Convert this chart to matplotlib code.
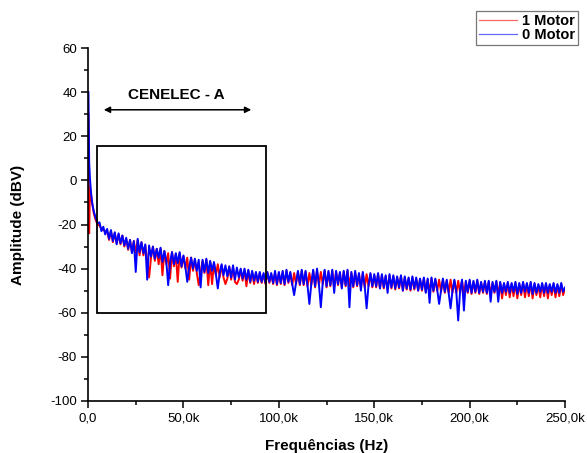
import numpy as np
import matplotlib
matplotlib.use("Agg")
import matplotlib.pyplot as plt
from matplotlib.patches import Rectangle
from matplotlib.ticker import MultipleLocator, FuncFormatter

plt.rcParams['font.family'] = ['Liberation Sans', 'DejaVu Sans']
plt.rcParams['axes.unicode_minus'] = False

# frequency grid (kHz): fine steps near 0, then 1 kHz steps
freq_head_khz = [0.2, 0.4, 0.6, 1, 1.5, 2, 2.5, 3, 4, 5, 6, 7, 8, 9]
freq_khz = np.concatenate([freq_head_khz, np.arange(10, 251)])

# 1 Motor (red) - amplitude in dBV
motor1_db = [
    30, -22, -24, -3, -6, -10, -12, -15, -18, -20, -20.5, -22, -22.5, -23,
    -23, -27, -23, -28, -24, -28.5, -24.5, -29, -25, -30,
    -26.5, -31.5, -27, -32.5, -27.5, -33, -27, -34, -28, -34,
    -29.5, -36, -44, -35, -30, -36.5, -31, -38, -31, -43,
    -32, -38, -33, -44.5, -32.5, -39, -33.5, -46, -33, -39.5,
    -34.5, -40, -35, -45, -35, -41, -36, -42, -47.5, -41.5,
    -36.5, -42, -36, -47.5, -37, -47, -37.5, -43, -38, -44,
    -38.5, -44, -47, -44.5, -39, -45, -39.5, -46, -47, -45,
    -40.5, -45.5, -40.5, -48, -41, -46.5, -41.5, -47, -42, -46.5,
    -42, -46.5, -42.5, -47, -42, -46.5, -42.5, -47, -42, -47.5,
    -42, -47, -41.5, -47.5, -41, -46.5, -42, -47.5, -42, -47,
    -41.5, -47.5, -41, -47.5, -41.5, -48, -42, -47.5, -41, -48.5,
    -41, -47.5, -41.5, -47, -41, -48.5, -41.5, -48, -41, -48,
    -41.5, -47.5, -42, -48.5, -41.5, -48, -41, -48, -42, -48.5,
    -42, -48, -42.5, -48.5, -42, -48.5, -42.5, -48, -42.5, -48.5,
    -43, -48.5, -42.5, -49, -43, -49, -43.5, -49.5, -43, -49,
    -43.5, -49.5, -44, -49, -43.5, -50, -44, -49.5, -44.5, -50,
    -44, -49.5, -44.5, -50, -45, -50, -44.5, -50.5, -45, -50.5,
    -44.5, -50.5, -45, -50, -45, -50.5, -45, -51, -45.5, -51,
    -45, -51, -45.5, -51, -45.5, -51, -45.5, -51.5, -46, -51,
    -45.5, -51.5, -46, -51, -45.5, -51.5, -46.5, -51, -46, -51.5,
    -46, -51.5, -46.5, -51, -46, -51.5, -46.5, -53.5, -47, -52,
    -46.5, -53, -47, -52.5, -46.5, -53.5, -47, -52, -46.5, -53,
    -47, -52.5, -46.5, -53.5, -47, -52, -47.5, -53, -47, -52.5,
    -47, -53.5, -47.5, -52, -47, -53, -47.5, -52.5, -47, -52,
    -49,
]

# 0 Motor (blue) - amplitude in dBV
motor0_db = [
    40, 22, 8, 1, -5, -9, -12, -14, -17, -19.5, -19, -23, -21, -24.5,
    -22, -26.5, -22.5, -27.5, -23.5, -29, -24, -28.5, -25, -29.5,
    -26, -31, -27, -33, -27.5, -41.5, -26.5, -32.5, -28, -33,
    -29, -45, -29.5, -34.5, -30, -35.5, -31, -35, -30.5, -37,
    -32, -36.5, -47.5, -37, -32.5, -38, -33, -37.5, -32.5, -39,
    -34, -39, -46, -39.5, -35, -40, -35.5, -41, -36, -48.5,
    -36, -41.5, -35.5, -42, -36.5, -41, -37, -42.5, -49, -42,
    -38, -43, -38.5, -43.5, -39, -44, -38.5, -45, -39.5, -44,
    -40, -44.5, -40, -45, -40.5, -46, -41, -45.5, -41.5, -46,
    -41.5, -46, -42, -46.5, -41.5, -46, -42, -46.5, -41, -47,
    -41.5, -46.5, -41, -47, -40.5, -46, -41.5, -47, -52, -46.5,
    -41, -47, -40.5, -47, -41, -47.5, -56, -47, -40.5, -48,
    -40, -47, -57.5, -46.5, -40.5, -48, -41, -47.5, -40.5, -51,
    -41, -47, -41.5, -49, -41, -47.5, -40.5, -57.5, -41.5, -48,
    -41, -47.5, -42, -50, -41.5, -48, -58, -47.5, -42, -48,
    -42.5, -48, -42, -49, -42.5, -48.5, -43, -51, -42.5, -48.5,
    -43, -49, -43.5, -48.5, -43, -50, -43.5, -49, -44, -49.5,
    -43.5, -49, -44, -50, -44.5, -49.5, -44, -51, -44.5, -55.5,
    -44, -50, -44.5, -49.5, -56, -50, -44.5, -50.5, -45, -51,
    -58, -50, -45, -50.5, -63.5, -50, -45, -59, -45.5, -50.5,
    -45, -51, -45.5, -50.5, -45, -51, -46, -50.5, -45.5, -51,
    -45.5, -55, -46, -50.5, -45.5, -55, -46, -51, -46.5, -50.5,
    -46, -51, -46.5, -50.5, -46, -51.5, -46.5, -51, -46, -50.5,
    -46.5, -51, -46, -51.5, -46.5, -51, -47, -50.5, -46.5, -51,
    -46.5, -51, -47, -50.5, -46.5, -51, -47, -51, -46.5, -50.5,
    -48.5,
]

freq_hz = freq_khz * 1000

fig = plt.figure(figsize=(5.87, 4.53), dpi=100)
ax = fig.add_axes([0.150, 0.1148, 0.8126, 0.7792])

ax.plot(freq_hz, motor1_db, color='red', lw=1.4, label='1 Motor')
ax.plot(freq_hz, motor0_db, color='blue', lw=1.4, label='0 Motor')

ax.set_xlim(0, 250000)
ax.set_ylim(-100, 60)

for s in ['top', 'right']:
    ax.spines[s].set_visible(False)
for s in ['left', 'bottom']:
    ax.spines[s].set_linewidth(1.2)

ax.xaxis.set_major_locator(MultipleLocator(50000))
ax.xaxis.set_minor_locator(MultipleLocator(25000))
ax.yaxis.set_major_locator(MultipleLocator(20))
ax.yaxis.set_minor_locator(MultipleLocator(10))
ax.xaxis.set_major_formatter(FuncFormatter(
    lambda v, p: '0,0' if v == 0 else ('%.1fk' % (v / 1000)).replace('.', ',')))
ax.tick_params(which='major', direction='out', length=5, width=1.1, labelsize=9.5, pad=3)
ax.tick_params(which='minor', direction='out', length=3, width=1.1)

ax.set_xlabel('Frequências (Hz)', fontsize=11, fontweight='bold')
ax.set_ylabel('Amplitude (dBV)', fontsize=11, fontweight='bold')
ax.xaxis.set_label_coords(0.5, -0.108)
ax.yaxis.set_label_coords(-0.132, 0.5)

# CENELEC-A band marker
ax.add_patch(Rectangle((4700, -60), 88600, 75.5, fill=False, ec='black', lw=1.3, zorder=3))
ax.annotate('', xy=(6800, 32), xytext=(87000, 32),
            arrowprops=dict(arrowstyle='<|-|>', color='black', lw=1.1, mutation_scale=9))
ax.text(46500, 35.5, 'CENELEC - A', ha='center', va='bottom', fontsize=11, fontweight='bold')

leg = fig.legend(loc='upper left', bbox_to_anchor=(476 / 587, 1 - 11 / 453),
                 prop={'weight': 'bold', 'size': 10.5},
                 frameon=True, fancybox=False, handlelength=2.6,
                 borderpad=0.2, labelspacing=0.0, handletextpad=0.35,
                 borderaxespad=0)
leg.get_frame().set_edgecolor('#555555')
leg.get_frame().set_linewidth(0.9)
for line in leg.get_lines():
    line.set_linewidth(0.9)
    line.set_alpha(0.6)

fig.savefig('out.png', dpi=100)
